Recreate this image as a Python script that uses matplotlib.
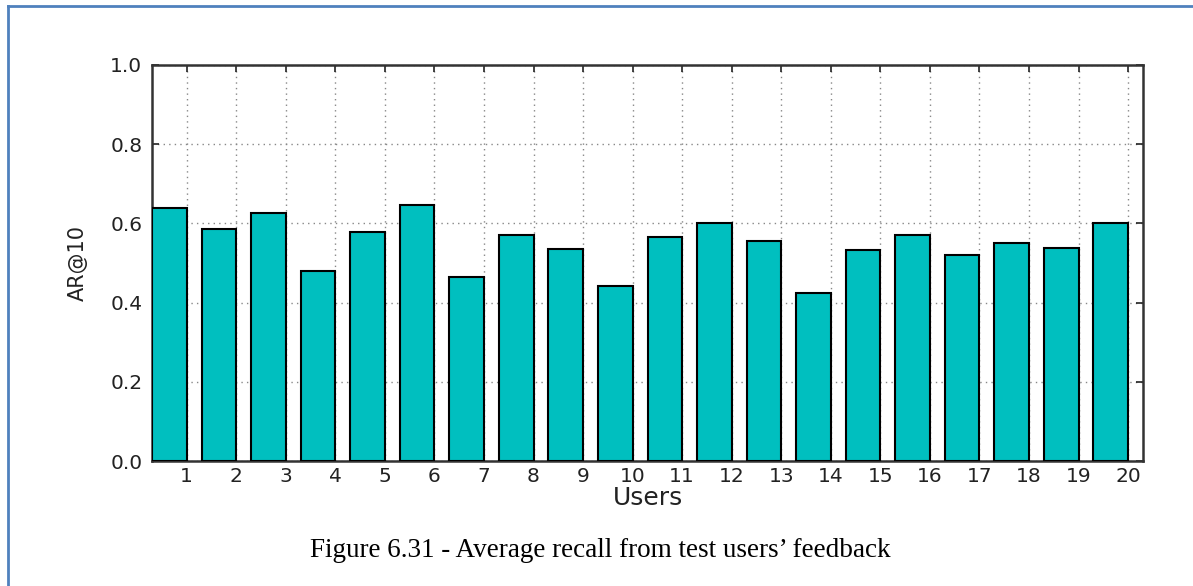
import numpy as np
import matplotlib
matplotlib.use("Agg")
import matplotlib.pyplot as plt
from matplotlib.lines import Line2D

# ===== data =====
users = [str(i) for i in range(1, 21)]
recall = [0.64, 0.587, 0.627, 0.479, 0.578, 0.647, 0.464, 0.570, 0.536, 0.442,
          0.566, 0.600, 0.555, 0.423, 0.532, 0.570, 0.519, 0.550, 0.538, 0.600]

width = 0.7
ind = np.arange(len(users))

fig = plt.figure(figsize=(11.93, 5.86), dpi=100)
ax = fig.add_axes([0.1274, 0.2133, 0.8307, 0.6758])

ax.bar(ind, recall, width, align="edge", color="#00bfbf",
       edgecolor="black", linewidth=1.5, zorder=3)

ax.set_xlim(0, len(users))
ax.set_ylim(0, 1.0)
ax.set_xticks(ind + width)
ax.set_xticklabels(users)
ax.set_yticks(np.arange(0, 1.01, 0.2))
ax.set_yticklabels(["%.1f" % v for v in np.arange(0, 1.01, 0.2)])

ax.grid(True, linestyle=(0, (1, 3)), color="#888888", linewidth=1.0, zorder=0)
ax.tick_params(direction="in", top=True, right=True, length=5, width=1.2,
               labelsize=14.5, colors="#222222", pad=7)
ax.tick_params(axis="x", pad=4)
for s in ax.spines.values():
    s.set_linewidth(1.8)
    s.set_color("#333333")

ax.set_xlabel("Users", fontsize=18, color="#222222", labelpad=0)
ax.set_ylabel("AR@10", fontsize=15, color="#222222", labelpad=16)

fig.text(0.503, 0.061, "Figure 6.31 - Average recall from test users\u2019 feedback",
         ha="center", va="center", fontsize=19.5, family="Liberation Serif")

# page border (top and left)
fig.add_artist(Line2D([8 / 1193, 1.0], [1 - 6 / 586, 1 - 6 / 586],
                      transform=fig.transFigure, color="#4f81bd", linewidth=2))
fig.add_artist(Line2D([8 / 1193, 8 / 1193], [0, 1 - 6 / 586],
                      transform=fig.transFigure, color="#4f81bd", linewidth=2))

plt.savefig("out.png", dpi=100)
